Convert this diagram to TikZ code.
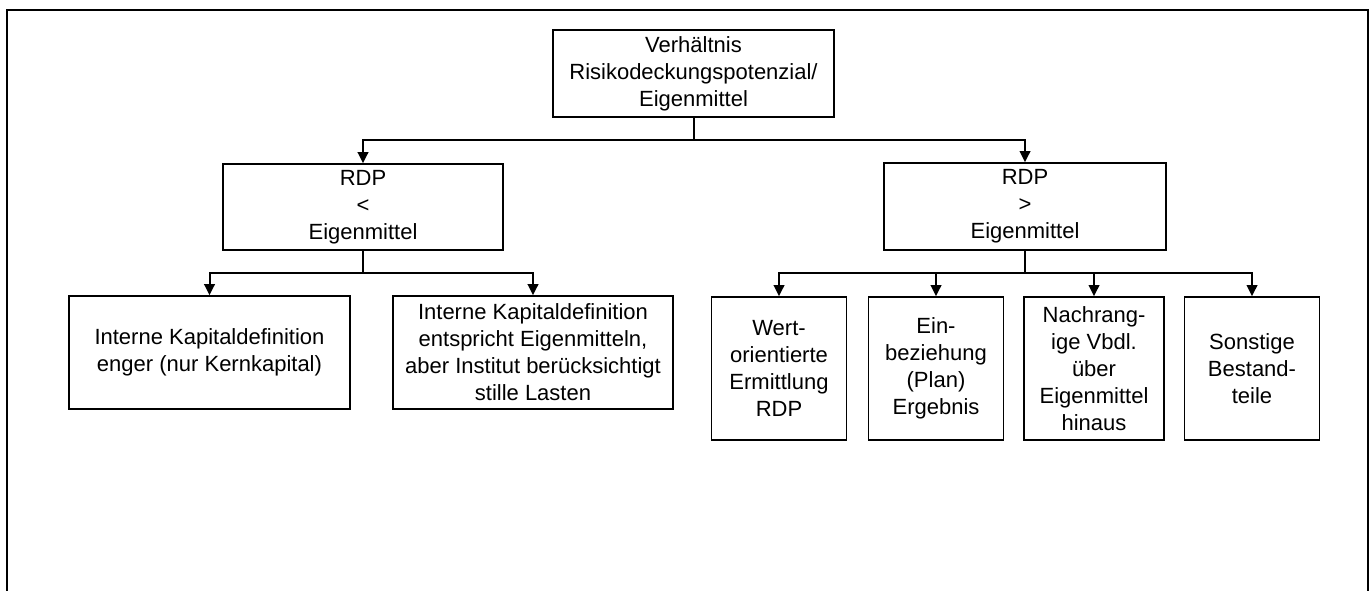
\documentclass[tikz,border=0pt]{standalone}
\usepackage{fontspec}
\setmainfont{Liberation Sans}
\usetikzlibrary{arrows.meta}
\begin{document}
\begin{tikzpicture}[x=1pt,y=-1pt,
  box/.style={draw,line width=1.6pt,inner sep=0pt,align=center,
    font=\fontsize{22}{27}\selectfont},
  conn/.style={line width=2pt},
  arr/.style={conn,-{Triangle[length=11pt,width=10.5pt]}}]
\useasboundingbox (0,0) rectangle (1372,591);
\draw[line width=2.8pt] (7,593) -- (7,10) -- (1368,10) -- (1368,593);
\node[box,minimum width=281pt,minimum height=87pt] (top) at (693.5,73.5)
  {Verhältnis\\Risikodeckungspotenzial/\\Eigenmittel};
\node[box,minimum width=280pt,minimum height=86pt] (rdpL) at (363,207)
  {RDP\\<\\Eigenmittel};
\node[box,minimum width=282pt,minimum height=87pt] (rdpR) at (1025,206.5)
  {RDP\\>\\Eigenmittel};
\node[box,minimum width=281pt,minimum height=113pt] (l1) at (209.5,352.5)
  {Interne Kapitaldefinition\\enger (nur Kernkapital)};
\node[box,minimum width=280pt,minimum height=113pt] (l2) at (533,352.5)
  {Interne Kapitaldefinition\\entspricht Eigenmitteln,\\aber Institut berücksichtigt\\stille Lasten};
\node[box,minimum width=135pt,minimum height=143pt] (r1) at (779,368.5)
  {Wert-\\orientierte\\Ermittlung\\RDP};
\node[box,minimum width=135pt,minimum height=143pt] (r2) at (936,368.5)
  {Ein-\\beziehung\\(Plan)\\Ergebnis};
\node[box,minimum width=140pt,minimum height=143pt] (r3) at (1094,368.5)
  {Nachrang-\\ige Vbdl.\\über\\Eigenmittel\\hinaus};
\node[box,minimum width=135pt,minimum height=143pt] (r4) at (1252,368.5)
  {Sonstige\\Bestand-\\teile};
\coordinate (j0) at (693.5,140);
\coordinate (jL) at (363,273);
\coordinate (jR) at (1025,273);
\draw[conn] (top.south) -- (j0);
\draw[arr] (j0) -| (rdpL);
\draw[arr] (j0) -| (rdpR);
\draw[conn] (rdpL.south) -- (jL);
\draw[arr] (jL) -| (l1);
\draw[arr] (jL) -| (l2);
\draw[conn] (rdpR.south) -- (jR);
\draw[arr] (jR) -| (r1);
\draw[arr] (jR) -| (r2);
\draw[arr] (jR) -| (r3);
\draw[arr] (jR) -| (r4);
\end{tikzpicture}
\end{document}
